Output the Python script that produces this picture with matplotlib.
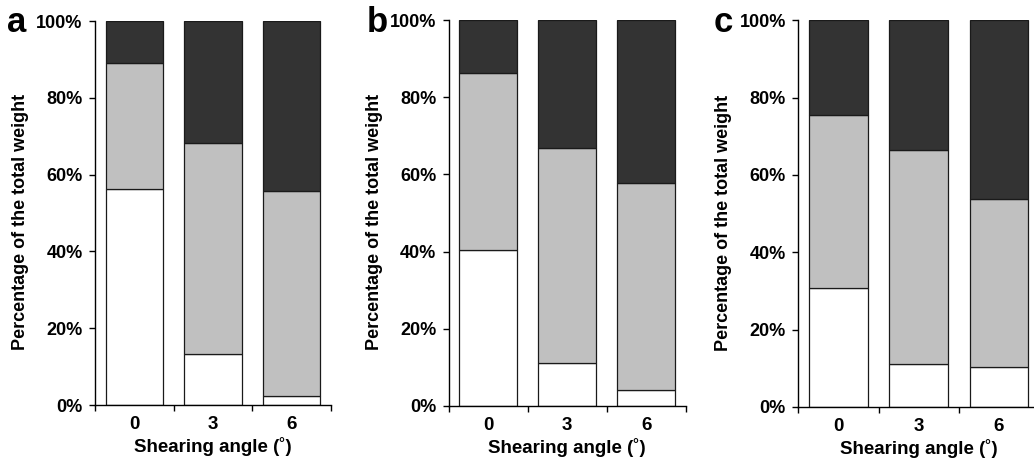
import matplotlib
matplotlib.use('Agg')
import matplotlib.pyplot as plt
from matplotlib.ticker import FixedLocator, PercentFormatter

plt.rcParams['font.family'] = ['Liberation Sans', 'DejaVu Sans']
plt.rcParams['font.weight'] = 'bold'

angles = ['0', '3', '6']
panels = ['a', 'b', 'c']

# segment shares (%), bottom to top
white = {'a': [56.3, 13.2, 2.3], 'b': [40.4, 11.1, 4.0], 'c': [30.7, 11.0, 10.3]}
gray = {'a': [32.7, 55.0, 53.5], 'b': [45.8, 55.8, 53.9], 'c': [44.8, 55.5, 43.4]}
dark = {'a': [11.0, 31.8, 44.2], 'b': [13.8, 33.1, 42.1], 'c': [24.5, 33.5, 46.3]}

colors = ['#ffffff', '#c0c0c0', '#333333']

# axes boxes in figure fraction (left, bottom, width, height)
boxes = [
    (0.0919, 0.1157, 0.2282, 0.8384),
    (0.4339, 0.1142, 0.2293, 0.8415),
    (0.7721, 0.1114, 0.2327, 0.8443),
]
letter_x = [17, 377, 723]

fig = plt.figure(figsize=(10.34, 4.58), dpi=100)

for p, box, lx in zip(panels, boxes, letter_x):
    ax = fig.add_axes(box)
    x = [i + 0.5 for i in range(len(angles))]
    bottom = [0, 0, 0]
    for seg, col in zip([white[p], gray[p], dark[p]], colors):
        ax.bar(x, seg, width=0.73, bottom=bottom, color=col,
               edgecolor='#1a1a1a', linewidth=0.9)
        bottom = [b + s for b, s in zip(bottom, seg)]

    ax.set_xlim(0, 3)
    ax.set_ylim(0, 100)
    ax.set_yticks([0, 20, 40, 60, 80, 100])
    ax.yaxis.set_major_formatter(PercentFormatter(decimals=0))
    ax.xaxis.set_major_locator(FixedLocator([0, 1, 2, 3]))
    ax.xaxis.set_major_formatter(plt.NullFormatter())
    ax.xaxis.set_minor_locator(FixedLocator(x))
    ax.set_xticklabels(angles, minor=True)
    ax.tick_params(axis='x', which='minor', length=0, pad=8, labelsize=13.5)
    ax.tick_params(axis='x', which='major', length=4, width=1, direction='out')
    ax.tick_params(axis='y', length=4, width=1, direction='out', pad=5, labelsize=13)

    for s in ['top', 'right']:
        ax.spines[s].set_visible(False)
    for s in ['left', 'bottom']:
        ax.spines[s].set_linewidth(1)

    ax.set_xlabel('Shearing angle (˚)', fontsize=13.5, fontweight='bold', labelpad=3)
    ax.set_ylabel('Percentage of the total weight', fontsize=13, fontweight='bold')
    ax.yaxis.set_label_coords(-66 / (box[2] * 1034), 0.477)

    fig.text(lx / 1034, 1 - 22 / 458, p, fontsize=25, fontweight='bold',
             ha='center', va='center')

fig.savefig('out.png', dpi=100)
